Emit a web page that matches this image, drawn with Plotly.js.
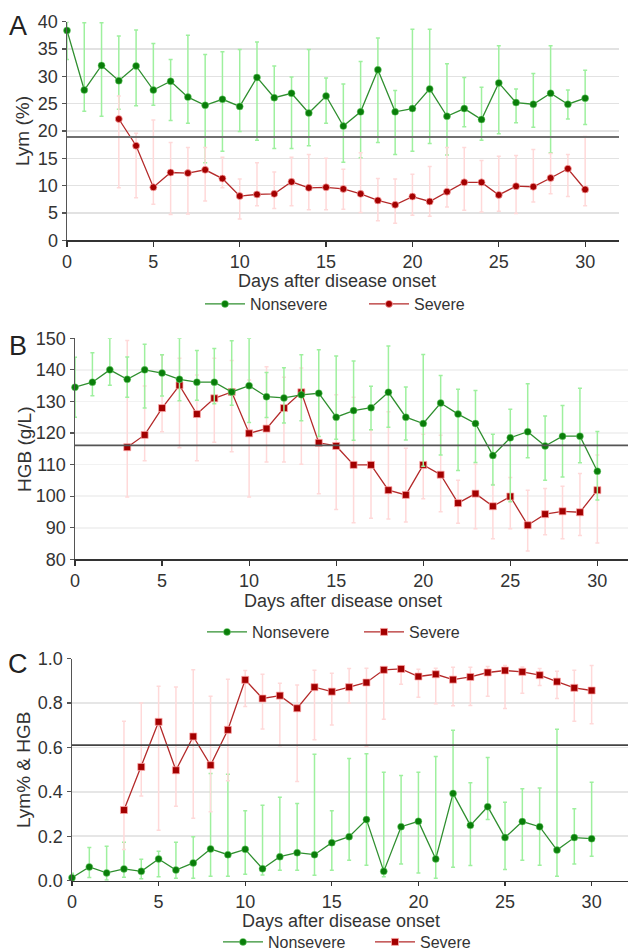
<!DOCTYPE html>
<html>
<head>
<meta charset="utf-8">
<script src="https://cdn.plot.ly/plotly-3.0.1.min.js"></script>
<style>html,body{margin:0;padding:0;background:#fff;}#chart{width:628px;height:951px;}</style>
</head>
<body>
<div id="chart"></div>
<script>
// ---------- data ----------
const daysNon = [0,1,2,3,4,5,6,7,8,9,10,11,12,13,14,15,16,17,18,19,20,21,22,23,24,25,26,27,28,29,30];
const daysSev = [3,4,5,6,7,8,9,10,11,12,13,14,15,16,17,18,19,20,21,22,23,24,25,26,27,28,29,30];

// Panel A: Lym (%)
const lymNon   = [38.4,27.5,32.0,29.2,31.9,27.5,29.1,26.2,24.7,25.8,24.5,29.8,26.1,26.9,23.3,26.4,20.9,23.5,31.2,23.5,24.1,27.7,22.7,24.1,22.1,28.8,25.2,24.9,26.9,24.9,26.0];
const lymNonHi = [40,39.8,39.8,37.4,38.5,36.0,33.1,37.5,34.0,34.5,34.9,36.3,31.9,29.9,34.9,29.7,28.6,32.7,37.0,27.4,38.6,38.6,32.3,29.8,28.0,35.6,27.7,30.5,35.6,27.5,31.1];
const lymNonLo = [33.1,23.6,22.7,24.0,24.6,24.7,21.9,21.4,14.2,16.3,19.9,18.3,16.8,16.8,17.3,21.4,14.3,15.1,17.9,15.7,16.3,17.7,15.6,20.8,18.3,19.5,21.5,20.7,16.0,22.2,21.2];
const lymSev   = [22.2,17.3,9.7,12.4,12.3,12.9,11.3,8.1,8.4,8.5,10.7,9.6,9.7,9.4,8.5,7.3,6.5,8.0,7.1,8.9,10.6,10.6,8.3,9.9,9.8,11.4,13.1,9.3];
const lymSevHi = [26.4,19.6,22.0,17.9,17.0,17.0,15.2,11.2,14.2,12.5,15.2,15.7,15.0,13.0,16.0,11.3,11.2,12.1,13.5,17.0,17.0,14.6,15.4,15.5,16.6,15.9,15.7,19.0];
const lymSevLo = [9.6,7.8,6.6,4.7,4.8,7.2,9.6,3.9,6.3,5.8,6.3,5.6,5.6,5.7,5.1,3.6,3.1,4.6,4.4,6.1,5.5,5.2,5.3,4.9,7.0,8.5,8.0,6.3];

// Panel B: HGB (g/L)
const hgbNon   = [134.5,136.1,140.0,137.0,140.0,139.0,137.0,136.1,136.1,133.0,135.0,131.5,131.1,132.1,132.6,125.0,127.1,128.0,132.9,125.0,123.0,129.5,126.0,123.0,112.9,118.5,120.4,115.9,119.0,119.0,107.9];
const hgbNonHi = [144,145.4,150,144.1,148.1,144.8,150,146.1,146.8,149.2,150,139.2,140.7,144.8,146.4,144.4,142.8,134.8,147.6,134.6,144.9,138.2,133.9,133.5,119.6,127.5,135.6,125.4,128.7,134.2,120.5];
const hgbNonLo = [125.0,131.8,135.1,131.3,127.9,131.7,130.2,130.4,129.3,128.8,123.3,124.9,123.2,123.9,118.9,118.0,117.7,121.0,121.8,117.8,109.5,113.0,108.1,110.7,103.5,98.2,112.2,105.0,106.1,110.6,98.8];
const hgbSev   = [115.5,119.4,127.9,135.1,126.0,131.0,133.0,119.9,121.4,127.9,132.9,116.9,115.9,109.9,109.9,101.9,100.4,109.9,106.8,97.8,100.8,96.8,99.9,90.8,94.3,95.2,94.9,101.9];
const hgbSevHi = [149.3,134.9,144.7,143.7,138.4,143.7,143.0,136.8,141.0,137.7,140.6,132.0,132.1,131.3,121.0,126.7,115.2,119.6,119.3,105.0,110.1,103.7,105.9,101.9,102.4,103.1,107.2,113.0];
const hgbSevLo = [99.7,111.2,120.4,115.3,111.2,117.1,114.1,99.7,110.8,110.8,110.1,100.8,95.8,91.6,93.0,92.8,91.8,99.2,95.1,91.4,89.7,86.5,89.7,82.6,87.8,86.5,87.5,85.2];

// Panel C: Lym% & HGB
const ratNon   = [0.0135,0.062,0.035,0.053,0.042,0.098,0.048,0.080,0.143,0.117,0.141,0.054,0.108,0.126,0.117,0.171,0.198,0.275,0.042,0.243,0.267,0.098,0.393,0.249,0.333,0.194,0.266,0.243,0.138,0.194,0.189];
const ratNonHi = [0.033,0.149,0.155,0.173,0.096,0.132,0.173,0.198,0.483,0.479,0.315,0.339,0.375,0.347,0.569,0.315,0.55,0.571,0.488,0.473,0.488,0.559,0.677,0.441,0.554,0.353,0.414,0.417,0.682,0.324,0.443];
const ratNonLo = [0,0.014,0.003,0.015,0.009,0.018,0.011,0.011,0.02,0.02,0.029,0.026,0.047,0.047,0.024,0.047,0.092,0.069,0.018,0.075,0.035,0.011,0.06,0.068,0.275,0.05,0.092,0.069,0.02,0.075,0.11];
const ratSev   = [0.318,0.512,0.715,0.497,0.649,0.520,0.679,0.904,0.820,0.833,0.776,0.871,0.851,0.871,0.892,0.949,0.953,0.919,0.929,0.905,0.917,0.937,0.946,0.940,0.925,0.896,0.868,0.856];
const ratSevHi = [0.718,0.80,0.875,0.872,0.949,0.830,0.907,0.946,0.929,0.889,0.881,0.947,0.934,0.955,0.956,0.96,0.96,0.952,0.956,0.961,0.961,0.964,0.968,0.962,0.955,0.943,0.947,0.968];
const ratSevLo = [0.14,0.381,0.227,0.335,0.281,0.31,0.45,0.784,0.683,0.607,0.447,0.634,0.701,0.80,0.604,0.727,0.884,0.826,0.796,0.787,0.788,0.830,0.775,0.844,0.878,0.82,0.718,0.706];

const refLines = [18.9, 116.1, 0.61];
const seriesNames = ['Nonsevere', 'Severe'];
const panelLabels = ['A', 'B', 'C'];
const yTitles = ['Lym (%)', 'HGB (g/L)', 'Lym% & HGB'];
const xTitle = 'Days after disease onset';

// ---------- styles ----------
const FONT = 'Liberation Sans, Arial, sans-serif';
const GREEN = '#0a7d0a', GREEN_LINE = '#2f8f2f', GREEN_ERR = '#9ef09e';
const RED = '#a30000', RED_LINE = '#b42a2a', RED_ERR = '#ffd9d9';

function err(v, hi, lo, color) {
  return {type: 'data', symmetric: false,
    array: v.map((d, i) => hi[i] - d), arrayminus: v.map((d, i) => d - lo[i]),
    color: color, thickness: 1.5, width: 2};
}
function tr(x, y, hi, lo, name, isSev, symbol, ax, legend, rank) {
  return {x: x, y: y, name: name, type: 'scatter', mode: 'lines+markers',
    xaxis: ax[0], yaxis: ax[1], legend: legend, legendrank: rank, cliponaxis: false,
    line: {color: isSev ? RED_LINE : GREEN_LINE, width: 1.3},
    marker: {color: isSev ? RED : GREEN, size: 7, symbol: symbol,
             line: {color: isSev ? 'rgba(255,170,170,0.9)' : 'rgba(120,220,120,0.6)', width: 0.8}},
    error_y: err(y, hi, lo, isSev ? RED_ERR : GREEN_ERR)};
}

const traces = [
  tr(daysNon, lymNon, lymNonHi, lymNonLo, seriesNames[0], false, 'circle', ['x','y'], 'legend', 1),
  tr(daysSev, lymSev, lymSevHi, lymSevLo, seriesNames[1], true, 'circle', ['x','y'], 'legend', 2),
  tr(daysSev, hgbSev, hgbSevHi, hgbSevLo, seriesNames[1], true, 'square', ['x2','y2'], 'legend2', 2),
  tr(daysNon, hgbNon, hgbNonHi, hgbNonLo, seriesNames[0], false, 'circle', ['x2','y2'], 'legend2', 1),
  tr(daysNon, ratNon, ratNonHi, ratNonLo, seriesNames[0], false, 'circle', ['x3','y3'], 'legend3', 1),
  tr(daysSev, ratSev, ratSevHi, ratSevLo, seriesNames[1], true, 'square', ['x3','y3'], 'legend3', 2)
];

const W = 628, H = 951;
const tickFont = {family: FONT, size: 18, color: '#333'};
const titleFont = {family: FONT, size: 19, color: '#333'};
const xTitleFont = {family: FONT, size: 18, color: '#333'};

function xa(left, right, xmax, anchor, tl) {
  return {domain: [left / W, right / W], range: [0, xmax], anchor: anchor,
    tickvals: [0,5,10,15,20,25,30], ticks: 'outside', ticklen: tl, tickwidth: 1.2, tickcolor: '#333',
    showline: true, linecolor: '#333', linewidth: 1.5, showgrid: false, zeroline: false,
    tickfont: tickFont};
}
function ya(top, bottom, range, dtick, fmt, grid, anchor) {
  return {domain: [1 - bottom / H, 1 - top / H], range: range, anchor: anchor, dtick: dtick, tick0: 0,
    tickformat: fmt, ticks: 'outside', ticklen: 4, tickwidth: 1.2, tickcolor: '#555',
    showline: true, linecolor: '#555', linewidth: 1.5, showgrid: true, gridcolor: grid, gridwidth: 1.6,
    zeroline: false, tickfont: tickFont};
}

function hline(yref, xref, val, color, width) {
  return {type: 'line', xref: xref + ' domain', yref: yref, x0: 0, x1: 1, y0: val, y1: val,
    line: {color: color, width: width}, layer: 'above'};
}
function leg(y, x, ew) {
  return {orientation: 'h', x: x, y: y, xanchor: 'left', yanchor: 'middle', xref: 'paper', yref: 'paper',
    font: {family: FONT, size: 16, color: '#333'}, bgcolor: 'rgba(0,0,0,0)', entrywidth: ew, itemwidth: 40,
    traceorder: 'normal'};
}

const panelY = [26, 346, 664];
const yTitlePos = [[22, 131], [25, 449], [23, 770]];
const xTitlePos = [[337, 281], [343, 601], [341, 920.5]];

function ann(t, x, y, angle, font) {
  return {text: t, xref: 'paper', yref: 'paper', x: x / W, y: 1 - y / H, xanchor: 'center', yanchor: 'middle',
    textangle: angle, showarrow: false, font: font};
}

const layout = {
  width: W, height: H, margin: {l: 0, r: 0, t: 0, b: 0, autoexpand: false},
  paper_bgcolor: '#fff', plot_bgcolor: '#fff', showlegend: true,
  xaxis:  xa(67, 619, 31.96, 'y', 5),
  yaxis:  ya(21.7, 240.3, [0, 40], 5, '', '#e2e2e2', 'x'),
  xaxis2: xa(75, 628, 31.76, 'y2', 5),
  yaxis2: ya(338.3, 559.3, [80, 150], 10, '', '#f2f2f2', 'x2'),
  xaxis3: xa(72, 628, 32.1, 'y3', 4),
  yaxis3: ya(658.5, 880.7, [0, 1], 0.2, '.1f', '#e6e6e6', 'x3'),
  legend: leg(1 - 304 / H, 200 / W, 109),
  legend2: leg(1 - 632 / H, 202 / W, 102),
  legend3: leg(1 - 942 / H, 218 / W, 97),
  shapes: [
    hline('y', 'x', refLines[0], '#6f6f6f', 2.2),
    hline('y2', 'x2', refLines[1], '#555', 1.6),
    hline('y3', 'x3', refLines[2], '#444', 1.6)
  ],
  annotations: panelLabels.map((t, i) => ann(t, 18, panelY[i], 0, {family: FONT, size: 27, color: '#222'}))
    .concat(yTitles.map((t, i) => ann(t, yTitlePos[i][0], yTitlePos[i][1], -90, titleFont)))
    .concat(xTitlePos.map(p => ann(xTitle, p[0], p[1], 0, xTitleFont)))
};

Plotly.newPlot('chart', traces, layout, {displayModeBar: false, staticPlot: true});
</script>
</body>
</html>
